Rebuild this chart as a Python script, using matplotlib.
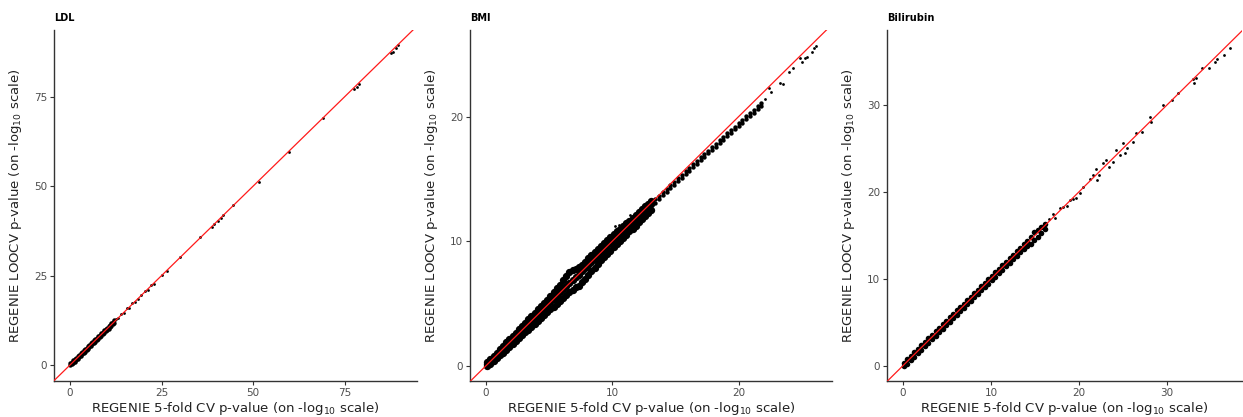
import matplotlib
matplotlib.use("Agg")
import matplotlib.pyplot as plt

# ---------------- data ----------------
panel_titles = ["LDL", "BMI", "Bilirubin"]
x_label = "REGENIE 5-fold CV p-value (on -log$_{10}$ scale)"
y_label = "REGENIE LOOCV p-value (on -log$_{10}$ scale)"

# LDL: dense core near origin (two edges of the band) + sparse strong hits
ldl_core_x = [0.1, 0.5, 0.9, 1.3, 1.7, 2.1, 2.5, 2.9, 3.3, 3.7, 4.1, 4.5, 4.9, 5.3, 5.7, 6.1,
              6.5, 6.9, 7.3, 7.7, 8.1, 8.5, 8.9, 9.3, 9.7, 10.1, 10.5, 10.9, 11.3, 11.7, 12.1]
ldl_core_lo = [0.0, 0.2, 0.6, 0.95, 1.35, 1.75, 2.15, 2.55, 2.95, 3.35, 3.75, 4.15, 4.55, 4.95, 5.35, 5.75,
               6.15, 6.55, 6.95, 7.35, 7.75, 8.15, 8.55, 8.95, 9.35, 9.75, 10.15, 10.55, 10.95, 11.35, 11.75]
ldl_core_hi = [0.4, 0.85, 1.25, 1.65, 2.05, 2.45, 2.85, 3.25, 3.65, 4.05, 4.45, 4.85, 5.25, 5.65, 6.05, 6.45,
               6.85, 7.25, 7.65, 8.05, 8.45, 8.85, 9.25, 9.65, 10.05, 10.45, 10.85, 11.25, 11.65, 12.05, 12.45]
ldl_x = [12.6, 13.2, 14.0, 14.8, 15.5, 16.2, 17.0, 17.8, 18.5, 19.5, 20.5, 21.2, 22.0, 22.8, 25.0,
         26.5, 30.0, 35.5, 38.7, 39.2, 40.5, 41.3, 41.9, 44.6, 51.5, 59.9, 69.0, 77.6, 78.3,
         78.9, 87.6, 88.3, 89.0, 89.7]
ldl_y = [12.8, 13.0, 14.3, 14.6, 15.8, 16.0, 17.3, 17.6, 18.4, 19.6, 20.7, 21.0, 22.3, 22.7, 25.1,
         26.3, 30.3, 35.9, 38.5, 39.3, 40.4, 41.2, 41.9, 44.7, 51.3, 59.6, 69.0, 77.2, 77.7,
         78.6, 87.2, 87.6, 88.6, 89.5]

# BMI: dense band (lower edge / centre / upper edge), upper band, sparse tail
bmi_core_x = [0.1, 0.35, 0.6, 0.85, 1.1, 1.35, 1.6, 1.85, 2.1, 2.35, 2.6, 2.85, 3.1, 3.35, 3.6, 3.85,
              4.1, 4.35, 4.6, 4.85, 5.1, 5.35, 5.6, 5.85, 6.1, 6.35, 6.6, 6.85, 7.1, 7.35, 7.6, 7.85,
              8.1, 8.35, 8.6, 8.85, 9.1, 9.35, 9.6, 9.85, 10.1, 10.35, 10.6, 10.85, 11.1, 11.35, 11.6,
              11.85, 12.1, 12.35, 12.6, 12.85, 13.1]
bmi_core_lo = [0.0, 0.15, 0.38, 0.62, 0.85, 1.05, 1.28, 1.52, 1.75, 1.98, 2.22, 2.45, 2.7, 2.9, 3.14, 3.36,
               3.6, 3.84, 4.08, 4.3, 4.55, 4.75, 4.98, 5.2, 5.45, 5.7, 5.92, 6.1, 6.3, 6.4, 6.75, 7.0,
               7.3, 7.6, 7.85, 8.15, 8.45, 8.72, 8.98, 9.25, 9.5, 9.75, 10.0, 10.25, 10.5, 10.78, 11.0,
               11.25, 11.5, 11.75, 12.0, 12.25, 12.5]
bmi_core_mid = [0.1, 0.38, 0.6, 0.88, 1.1, 1.38, 1.62, 1.85, 2.12, 2.36, 2.62, 2.85, 3.12, 3.35, 3.62, 3.85,
                4.12, 4.35, 4.6, 4.88, 5.1, 5.38, 5.62, 5.88, 6.15, 6.4, 6.62, 6.88, 7.1, 7.32, 7.58, 7.82,
                8.05, 8.32, 8.58, 8.82, 9.08, 9.32, 9.58, 9.82, 10.05, 10.3, 10.55, 10.8, 11.05, 11.3, 11.55,
                11.8, 12.02, 12.28, 12.52, 12.78, 13.0]
bmi_core_hi = [0.28, 0.55, 0.8, 1.05, 1.32, 1.62, 1.88, 2.12, 2.4, 2.65, 2.92, 3.16, 3.44, 3.72, 3.98, 4.24,
               4.52, 4.78, 5.04, 5.3, 5.58, 5.88, 6.2, 6.5, 6.85, 7.2, 7.5, 7.7, 7.75, 7.9, 8.1, 8.35,
               8.62, 8.88, 9.12, 9.38, 9.62, 9.88, 10.12, 10.35, 10.58, 10.8, 11.0, 11.22, 11.45, 11.66, 11.88,
               12.1, 12.32, 12.55, 12.8, 13.0, 13.22]
bmi_band_x = [13.4, 13.7, 14.0, 14.3, 14.6, 14.9, 15.2, 15.5, 15.8, 16.1, 16.4, 16.7, 17.0, 17.3, 17.6,
              17.9, 18.2, 18.5, 18.8, 19.1, 19.4, 19.7, 20.0, 20.3, 20.6, 20.9, 21.2, 21.5, 21.8]
bmi_band_lo = [13.1, 13.4, 13.68, 13.96, 14.25, 14.53, 14.82, 15.1, 15.38, 15.66, 15.94, 16.22, 16.5, 16.78,
               17.05, 17.33, 17.6, 17.88, 18.15, 18.42, 18.7, 18.98, 19.25, 19.52, 19.8, 20.05, 20.32, 20.6, 20.88]
bmi_band_hi = [13.4, 13.66, 13.94, 14.22, 14.5, 14.78, 15.06, 15.34, 15.62, 15.9, 16.18, 16.46, 16.74, 17.02,
               17.28, 17.56, 17.84, 18.12, 18.38, 18.66, 18.94, 19.2, 19.48, 19.75, 20.02, 20.28, 20.55, 20.82, 21.1]
bmi_x = [10.2, 10.5, 11.4, 22.1, 22.4, 22.6, 23.3, 23.5, 24.0, 24.3, 24.9, 25.05, 25.3, 25.45, 25.85, 25.98, 26.1]
bmi_y = [11.2, 11.3, 12.1, 21.4, 22.3, 22.0, 22.7, 22.6, 23.6, 23.9, 24.7, 24.4, 24.7, 24.8, 25.2, 25.5, 25.7]

# Bilirubin: dense core + scattered strong hits
bili_core_x = [0.1, 0.5, 0.9, 1.3, 1.7, 2.1, 2.5, 2.9, 3.3, 3.7, 4.1, 4.5, 4.9, 5.3, 5.7, 6.1, 6.5, 6.9,
               7.3, 7.7, 8.1, 8.5, 8.9, 9.3, 9.7, 10.1, 10.5, 10.9, 11.3, 11.7, 12.1, 12.5, 12.9, 13.3,
               13.7, 14.1, 14.5, 14.9, 15.3, 15.7, 16.1]
bili_core_lo = [0.0, 0.25, 0.65, 1.05, 1.45, 1.85, 2.25, 2.65, 3.05, 3.45, 3.85, 4.25, 4.65, 5.05, 5.45, 5.85,
                6.25, 6.65, 7.05, 7.45, 7.85, 8.25, 8.65, 9.05, 9.45, 9.85, 10.25, 10.65, 11.05, 11.45,
                11.85, 12.25, 12.65, 13.05, 13.45, 13.75, 14.05, 14.45, 14.85, 15.25, 15.7]
bili_core_hi = [0.3, 0.75, 1.15, 1.55, 1.95, 2.35, 2.75, 3.15, 3.55, 3.95, 4.35, 4.75, 5.15, 5.55, 5.95, 6.35,
                6.75, 7.15, 7.55, 7.95, 8.35, 8.75, 9.15, 9.55, 9.95, 10.35, 10.75, 11.15, 11.55, 11.95,
                12.35, 12.75, 13.15, 13.55, 13.95, 14.35, 14.85, 15.35, 15.65, 15.9, 16.3]
bili_x = [16.6, 17.0, 17.3, 17.8, 18.2, 18.6, 18.95, 19.3, 19.7, 20.1, 20.5, 21.2, 21.6, 21.9, 22.0, 22.3,
          22.7, 23.1, 23.4, 23.8, 24.2, 24.6, 25.0, 25.2, 25.4, 26.1, 26.5, 27.2, 28.0, 28.2, 29.5,
          30.6, 31.2, 32.9, 33.0, 33.3, 34.0, 34.8, 35.4, 35.7, 36.5, 37.1]
bili_y = [16.9, 17.5, 17.0, 18.1, 18.3, 18.4, 19.0, 19.2, 19.3, 19.8, 20.6, 21.5, 21.9, 22.6, 21.3, 21.9,
          23.3, 23.6, 22.9, 23.45, 24.8, 24.2, 25.6, 24.4, 25.0, 25.7, 26.8, 26.9, 28.6, 28.05, 30.0,
          30.5, 31.3, 33.0, 32.5, 33.1, 34.2, 34.2, 34.9, 35.3, 35.7, 36.5]

# ---------------- figure ----------------
W, H = 1243, 417
fig = plt.figure(figsize=(W / 100, H / 100), dpi=100)

# axes boxes in pixels: left, right, top, bottom
boxes = [(54, 417, 30, 381), (470, 832, 30, 381), (887, 1242, 30, 381)]
limits = [((-4.4, 94.8), (-4.5, 93.7)),
          ((-1.27, 27.4), (-1.23, 26.96)),
          ((-1.81, 38.5), (-1.76, 38.6))]
ticks = [[0, 25, 50, 75], [0, 10, 20], [0, 10, 20, 30]]

# each entry: (x, y, marker area)
panels = [
    [(ldl_core_x, ldl_core_lo, 10), (ldl_core_x, ldl_core_hi, 10), (ldl_x, ldl_y, 4)],
    [(bmi_core_x, bmi_core_lo, 28), (bmi_core_x, bmi_core_mid, 28), (bmi_core_x, bmi_core_hi, 28),
     (bmi_band_x, bmi_band_lo, 10), (bmi_band_x, bmi_band_hi, 10), (bmi_x, bmi_y, 4)],
    [(bili_core_x, bili_core_lo, 16), (bili_core_x, bili_core_hi, 16), (bili_x, bili_y, 4)],
]

axis_col = "#333333"
tick_col = "#4D4D4D"

for title, box, lim, tk, series in zip(panel_titles, boxes, limits, ticks, panels):
    l, r, t, b = box
    ax = fig.add_axes([l / W, 1 - b / H, (r - l) / W, (b - t) / H])
    for xs, ys, sz in series:
        ax.scatter(xs, ys, s=sz, c="black", linewidths=0, zorder=2)
    ax.axline((0, 0), slope=1, color="#FF1A1A", lw=0.9, zorder=3)
    ax.set_xlim(*lim[0])
    ax.set_ylim(*lim[1])
    ax.set_xticks(tk)
    ax.set_yticks(tk)
    for s in ["top", "right"]:
        ax.spines[s].set_visible(False)
    for s in ["left", "bottom"]:
        ax.spines[s].set_color(axis_col)
        ax.spines[s].set_linewidth(1.0)
    ax.tick_params(axis="both", length=3, width=0.8, color=axis_col,
                   labelcolor=tick_col, labelsize=7.5, pad=2)
    ax.set_xlabel(x_label, fontsize=9.5, color="#222222")
    ax.set_ylabel(y_label, fontsize=9.5, color="#222222")
    aw, ah = r - l, b - t
    ax.xaxis.set_label_coords(0.5, -19 / ah)
    ax.yaxis.set_label_coords(-30 / aw, 0.5)
    ax.text(0, 1 + 12 / ah, title, transform=ax.transAxes, ha="left", va="center",
            fontsize=7, fontweight="bold", color="black")

fig.savefig("out.png", dpi=100)
